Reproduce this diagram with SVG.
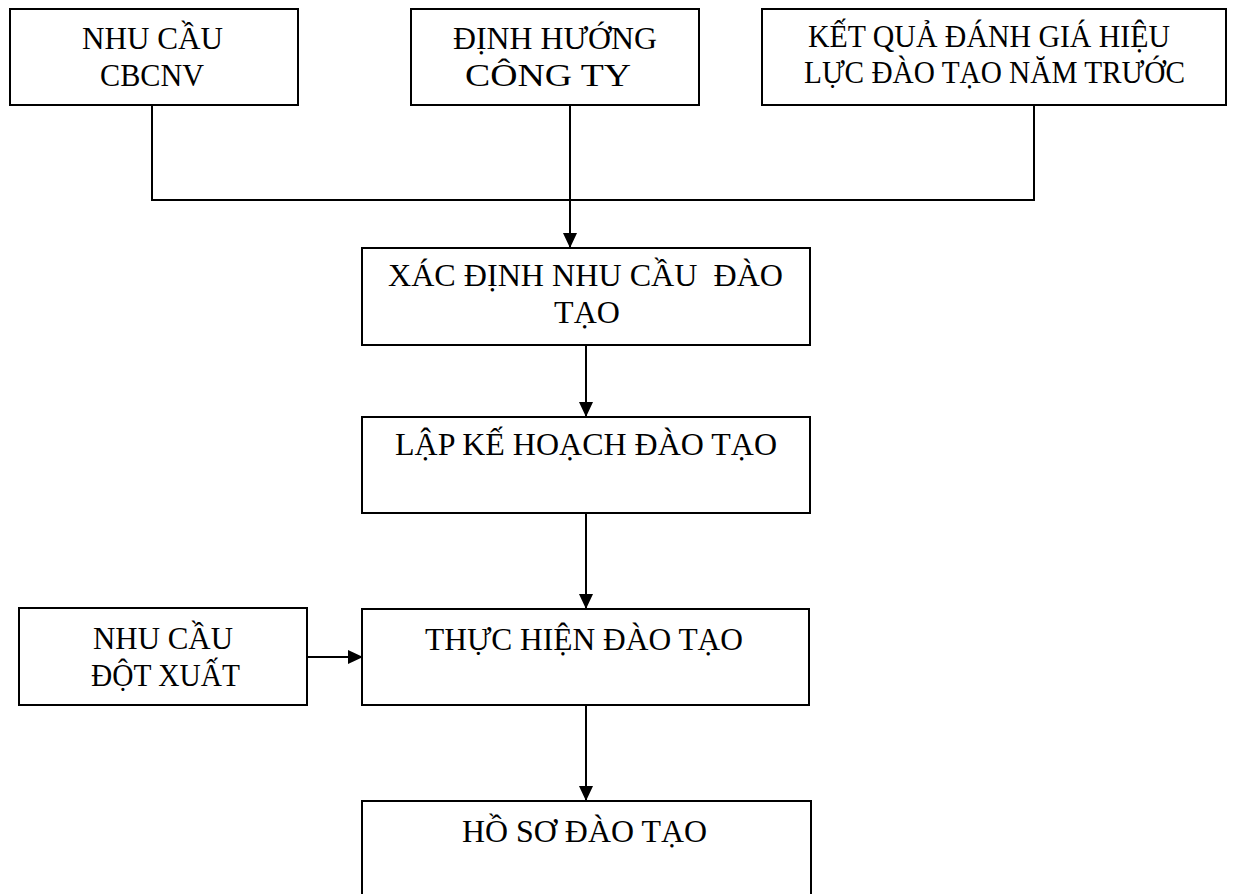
<svg xmlns="http://www.w3.org/2000/svg" width="1234" height="894" viewBox="0 0 1234 894">
<style>
.box{fill:#fff;stroke:#000;stroke-width:2}
.t{font-family:"Liberation Serif","Times New Roman",serif;font-size:32px;fill:#000;text-anchor:middle;white-space:pre}
.c{fill:none;stroke:#000;stroke-width:2}
</style>
<defs>
<marker id="ah" markerWidth="15" markerHeight="14" refX="15" refY="7" orient="auto" markerUnits="userSpaceOnUse">
<path d="M0,0 L15,7 L0,14 Z" fill="#000"/>
</marker>
</defs>
<rect width="1234" height="894" fill="#fff"/>
<g id="connectors">
<path class="c" d="M152,105 V200 H1034 V105"/>
<path class="c" d="M570,105 V248" marker-end="url(#ah)"/>
<path class="c" d="M586,345 V417" marker-end="url(#ah)"/>
<path class="c" d="M586,513 V609" marker-end="url(#ah)"/>
<path class="c" d="M307,657 H363" marker-end="url(#ah)"/>
<path class="c" d="M586,705 V801" marker-end="url(#ah)"/>
</g>
<g id="n1"><rect class="box" x="10" y="9" width="288" height="96"/>
<text class="t" x="152.5" y="49" textLength="141" lengthAdjust="spacingAndGlyphs">NHU CẦU</text><text class="t" x="152" y="86" textLength="104" lengthAdjust="spacingAndGlyphs">CBCNV</text></g>
<g id="n2"><rect class="box" x="411" y="9" width="288" height="96"/>
<text class="t" x="555" y="49" textLength="204" lengthAdjust="spacingAndGlyphs">ĐỊNH HƯỚNG</text><text class="t" x="548" y="86" textLength="166" lengthAdjust="spacingAndGlyphs">CÔNG TY</text></g>
<g id="n3"><rect class="box" x="762" y="9" width="464" height="96"/>
<text class="t" x="989" y="47" textLength="362" lengthAdjust="spacingAndGlyphs">KẾT QUẢ ĐÁNH GIÁ HIỆU</text><text class="t" x="994.5" y="83" textLength="381" lengthAdjust="spacingAndGlyphs">LỰC ĐÀO TẠO NĂM TRƯỚC</text></g>
<g id="n4"><rect class="box" x="362" y="248" width="448" height="97"/>
<text class="t" x="585.5" y="286" textLength="395" lengthAdjust="spacingAndGlyphs">XÁC ĐỊNH NHU CẦU  ĐÀO</text><text class="t" x="587" y="323">TẠO</text></g>
<g id="n5"><rect class="box" x="362" y="417" width="448" height="96"/>
<text class="t" x="586" y="455" textLength="382" lengthAdjust="spacingAndGlyphs">LẬP KẾ HOẠCH ĐÀO TẠO</text></g>
<g id="n6"><rect class="box" x="19" y="608" width="288" height="97"/>
<text class="t" x="163" y="649" textLength="140" lengthAdjust="spacingAndGlyphs">NHU CẦU</text><text class="t" x="165.5" y="686" textLength="149" lengthAdjust="spacingAndGlyphs">ĐỘT XUẤT</text></g>
<g id="n7"><rect class="box" x="362" y="609" width="447" height="96"/>
<text class="t" x="584" y="650" textLength="318" lengthAdjust="spacingAndGlyphs">THỰC HIỆN ĐÀO TẠO</text></g>
<g id="n8"><rect class="box" x="362" y="801" width="449" height="110"/>
<text class="t" x="584.5" y="842" textLength="245" lengthAdjust="spacingAndGlyphs">HỒ SƠ ĐÀO TẠO</text></g>
</svg>
